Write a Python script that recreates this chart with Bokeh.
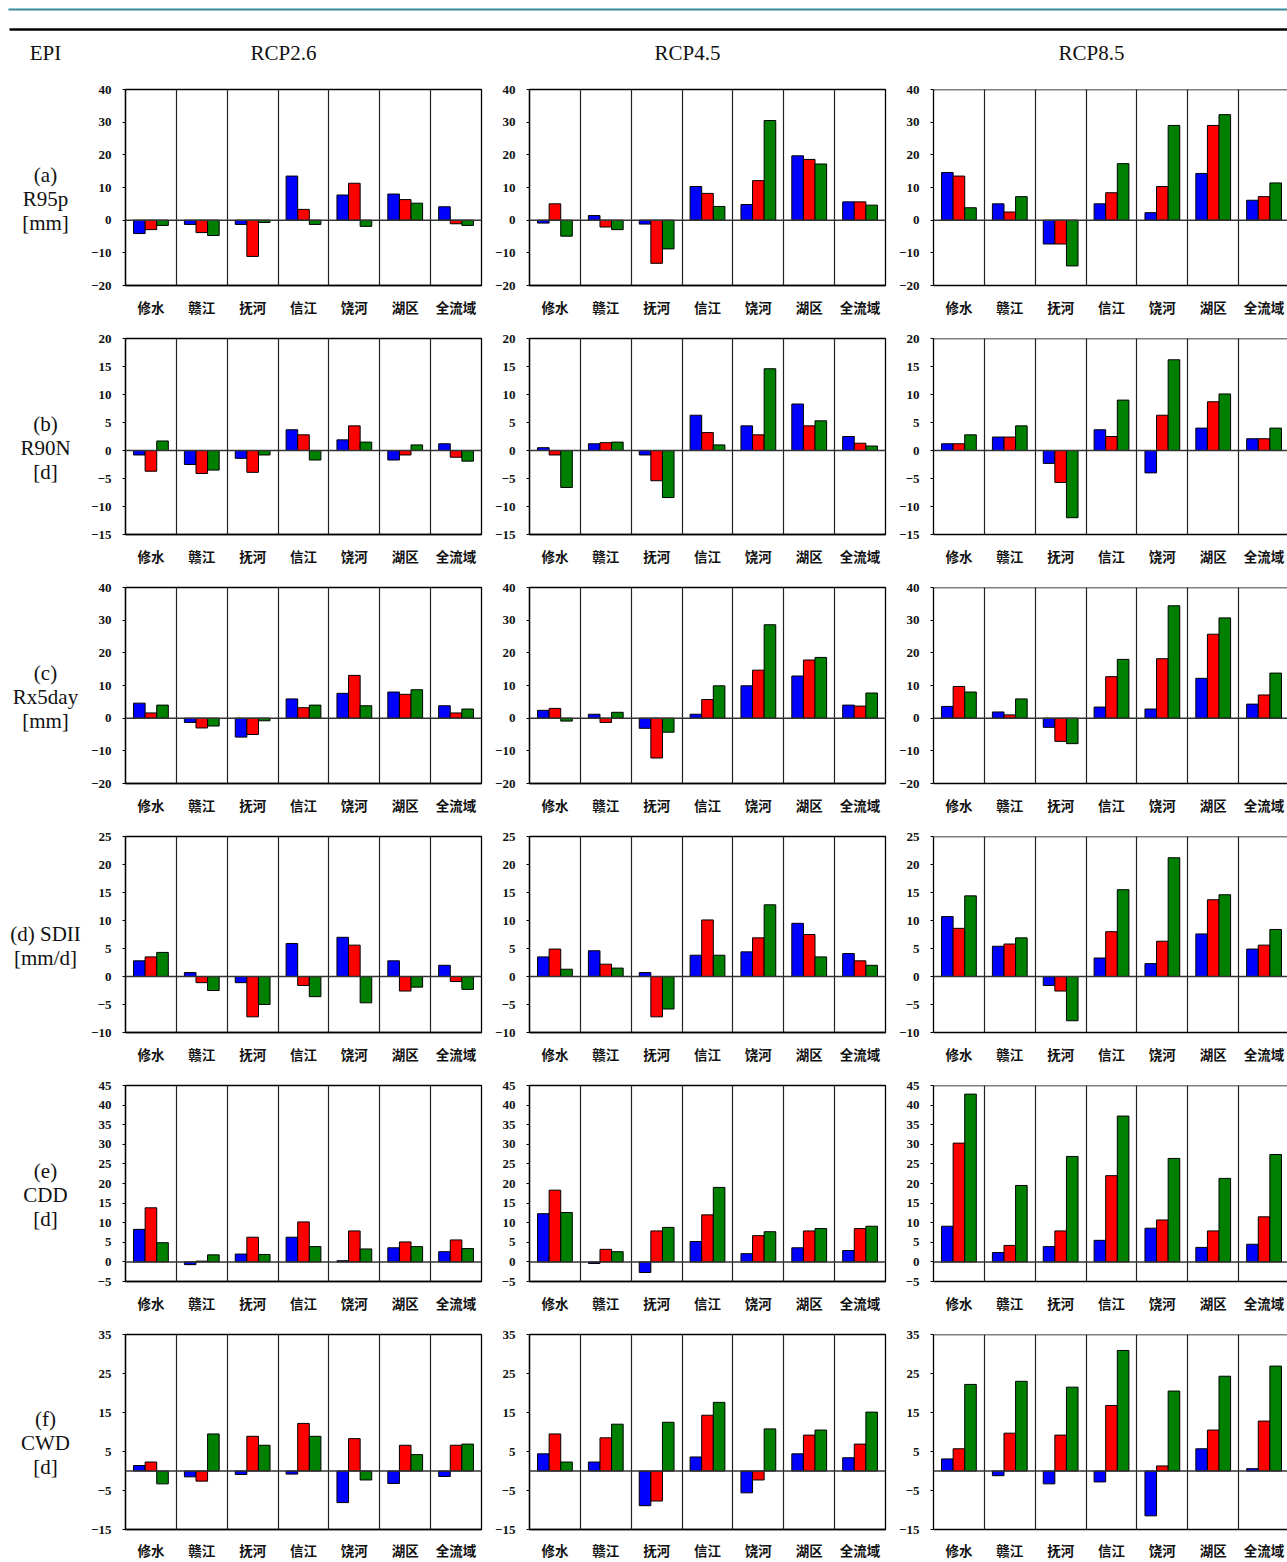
from bokeh.plotting import figure
from bokeh.layouts import column, row
from bokeh.models import Range1d, FixedTicker, Span, ColumnDataSource
from bokeh.transform import dodge
from bokeh.core.properties import value
from bokeh.embed import file_html
from bokeh.resources import INLINE

# ---------------- data ----------------
REGIONS = ["修水", "赣江", "抚河", "信江", "饶河", "湖区", "全流域"]
SCENARIOS = ["RCP2.6", "RCP4.5", "RCP8.5"]

# each scenario -> (blue series, red series, green series)
R95P = {
    "RCP2.6": ([-4.1, -1.3, -1.3, 13.5, 7.7, 8.0, 4.1],
               [-2.9, -3.8, -11.1, 3.3, 11.3, 6.3, -1.1],
               [-1.6, -4.7, -0.7, -1.3, -1.9, 5.2, -1.6]),
    "RCP4.5": ([-0.9, 1.4, -1.2, 10.3, 4.8, 19.7, 5.6],
               [5.0, -2.1, -13.2, 8.2, 12.1, 18.6, 5.6],
               [-4.9, -2.9, -8.8, 4.2, 30.5, 17.2, 4.6]),
    "RCP8.5": ([14.6, 5.0, -7.3, 5.0, 2.3, 14.3, 6.1],
               [13.5, 2.5, -7.3, 8.4, 10.3, 29.0, 7.2],
               [3.8, 7.2, -14.0, 17.3, 29.0, 32.3, 11.4]),
}
R90N = {
    "RCP2.6": ([-0.8, -2.5, -1.4, 3.7, 1.9, -1.7, 1.2],
               [-3.7, -4.1, -3.9, 2.8, 4.4, -0.8, -1.2],
               [1.7, -3.5, -0.8, -1.7, 1.5, 1.0, -1.9]),
    "RCP4.5": ([0.5, 1.2, -0.8, 6.3, 4.4, 8.3, 2.5],
               [-0.8, 1.4, -5.4, 3.2, 2.8, 4.4, 1.3],
               [-6.6, 1.5, -8.4, 1.0, 14.6, 5.3, 0.8]),
    "RCP8.5": ([1.2, 2.4, -2.3, 3.7, -4.0, 4.0, 2.1],
               [1.2, 2.4, -5.7, 2.5, 6.3, 8.7, 2.1],
               [2.8, 4.4, -12.0, 9.0, 16.2, 10.1, 4.0]),
}
RX5DAY = {
    "RCP2.6": ([4.6, -1.3, -5.8, 5.9, 7.6, 8.0, 3.8],
               [1.6, -3.0, -5.0, 3.2, 13.1, 7.3, 1.6],
               [4.0, -2.4, -0.8, 4.0, 3.8, 8.7, 2.8]),
    "RCP4.5": ([2.4, 1.2, -3.1, 1.2, 9.9, 12.9, 4.0],
               [3.0, -1.3, -12.2, 5.7, 14.7, 17.8, 3.7],
               [-0.9, 1.8, -4.3, 9.9, 28.6, 18.6, 7.7]),
    "RCP8.5": ([3.6, 1.9, -2.8, 3.4, 2.8, 12.2, 4.3],
               [9.7, 1.0, -7.1, 12.7, 18.2, 25.7, 7.1],
               [8.0, 5.9, -7.8, 18.0, 34.4, 30.7, 13.8]),
}
SDII = {
    "RCP2.6": ([2.8, 0.7, -1.1, 5.9, 7.0, 2.8, 2.0],
               [3.5, -1.1, -7.2, -1.6, 5.6, -2.6, -0.9],
               [4.3, -2.5, -5.0, -3.6, -4.7, -1.9, -2.3]),
    "RCP4.5": ([3.5, 4.6, 0.7, 3.8, 4.4, 9.5, 4.1],
               [4.9, 2.2, -7.2, 10.1, 6.9, 7.5, 2.8],
               [1.3, 1.5, -5.8, 3.8, 12.8, 3.5, 2.0]),
    "RCP8.5": ([10.7, 5.4, -1.6, 3.3, 2.3, 7.6, 4.9],
               [8.6, 5.8, -2.6, 8.0, 6.3, 13.7, 5.6],
               [14.4, 6.9, -7.9, 15.5, 21.2, 14.6, 8.4]),
}
CDD = {
    "RCP2.6": ([8.3, -0.7, 2.0, 6.3, 0.3, 3.6, 2.6],
               [13.8, 0.2, 6.3, 10.2, 7.9, 5.1, 5.6],
               [4.9, 1.8, 1.9, 3.9, 3.3, 3.9, 3.4]),
    "RCP4.5": ([12.3, -0.4, -2.7, 5.2, 2.1, 3.6, 2.9],
               [18.3, 3.2, 7.9, 12.0, 6.7, 7.9, 8.5],
               [12.6, 2.6, 8.8, 19.0, 7.7, 8.5, 9.1]),
    "RCP8.5": ([9.1, 2.4, 3.9, 5.5, 8.6, 3.7, 4.5],
               [30.3, 4.2, 7.9, 22.0, 10.7, 7.9, 11.5],
               [42.8, 19.5, 26.9, 37.2, 26.4, 21.3, 27.4]),
}
CWD = {
    "RCP2.6": ([1.4, -1.5, -0.9, -0.8, -8.1, -3.2, -1.4],
               [2.3, -2.6, 8.9, 12.2, 8.3, 6.6, 6.6],
               [-3.3, 9.5, 6.6, 8.9, -2.3, 4.2, 6.9]),
    "RCP4.5": ([4.4, 2.3, -8.9, 3.6, -5.6, 4.4, 3.4],
               [9.5, 8.5, -7.7, 14.3, -2.3, 9.2, 6.9],
               [2.3, 12.0, 12.5, 17.6, 10.8, 10.5, 15.1]),
    "RCP8.5": ([3.1, -1.2, -3.3, -2.8, -11.5, 5.7, 0.6],
               [5.7, 9.7, 9.2, 16.8, 1.3, 10.5, 12.8],
               [22.2, 23.0, 21.5, 30.9, 20.5, 24.3, 26.9]),
}

INDICES = [R95P, R90N, RX5DAY, SDII, CDD, CWD]
ROW_LABELS = [["(a)", "R95p", "[mm]"], ["(b)", "R90N", "[d]"], ["(c)", "Rx5day", "[mm]"],
              ["(d) SDII", "[mm/d]"], ["(e)", "CDD", "[d]"], ["(f)", "CWD", "[d]"]]
Y_TICKS = [[-20, -10, 0, 10, 20, 30, 40],
           [-15, -10, -5, 0, 5, 10, 15, 20],
           [-20, -10, 0, 10, 20, 30, 40],
           [-10, -5, 0, 5, 10, 15, 20, 25],
           [-5, 0, 5, 10, 15, 20, 25, 30, 35, 40, 45],
           [-15, -5, 5, 15, 25, 35]]

# ---------------- style / layout ----------------
COLORS = ["#0000ff", "#ff0000", "#008000"]
SERIF = "Liberation Serif"
CJK = "Noto Sans CJK SC"
TOTAL_W = 1287
LABEL_W = 85
BORDER_L = 40
BORDER_R = 8
FRAME_W = 356
COL_W = BORDER_L + FRAME_W + BORDER_R
ROW_H = 249
TOP_B = 17
FRAME_H = 196
BOT_B = ROW_H - TOP_B - FRAME_H
LAST_BOT_B = 32
HEADER_H = 72


def make_panel(series, ticks, col, last):
    R = BORDER_R if col < 2 else 0
    frame_w = FRAME_W if col < 2 else TOTAL_W - LABEL_W - 2 * COL_W - BORDER_L
    B = LAST_BOT_B if last else BOT_B
    n = len(REGIONS)
    xs = list(range(1, n + 1))
    x_end = 0.5 + n * frame_w / float(FRAME_W)
    p = figure(width=BORDER_L + frame_w + R, height=TOP_B + FRAME_H + B,
               x_range=Range1d(0.5, x_end), y_range=Range1d(min(ticks), max(ticks)),
               output_backend="svg", toolbar_location=None,
               min_border_left=BORDER_L, min_border_right=R, min_border_top=TOP_B,
               min_border_bottom=B)
    src = ColumnDataSource(dict(x=xs, s0=series[0], s1=series[1], s2=series[2]))
    w = 0.228
    for k, fld in enumerate(["s0", "s1", "s2"]):
        p.vbar(x=dodge("x", (k - 1) * w), top=fld, bottom=0, width=w, source=src,
               fill_color=COLORS[k], line_color="black", line_width=1)
    p.xgrid.ticker = FixedTicker(ticks=[i + 0.5 for i in range(1, n)])
    p.xgrid.grid_line_color = "#222222"
    p.xgrid.grid_line_width = 1.2
    p.ygrid.grid_line_color = None
    p.add_layout(Span(location=0, dimension="width", line_color="#333333", line_width=1.5))

    xa = p.xaxis[0]
    xa.ticker = FixedTicker(ticks=xs)
    xa.major_label_overrides = {x: name for x, name in zip(xs, REGIONS)}
    xa.major_tick_line_color = None
    xa.major_tick_out = 0
    xa.major_tick_in = 0
    xa.minor_tick_line_color = None
    xa.axis_line_color = "black"
    xa.axis_line_width = 1.3
    xa.major_label_text_font = CJK
    xa.major_label_text_font_style = "bold"
    xa.major_label_text_font_size = "13.5px"
    xa.major_label_text_color = "#111111"
    xa.major_label_standoff = 10 if last else 11

    ya = p.yaxis[0]
    ya.ticker = FixedTicker(ticks=ticks)
    ya.minor_tick_line_color = None
    ya.major_tick_out = 3
    ya.major_tick_in = 0
    ya.major_tick_line_color = "black"
    ya.axis_line_color = "black"
    ya.axis_line_width = 1.3
    ya.major_label_text_font = SERIF
    ya.major_label_text_font_style = "bold"
    ya.major_label_text_font_size = "13px"
    ya.major_label_text_color = "#111111"
    ya.major_label_standoff = 11

    if col < 2:
        p.outline_line_color = "black"
        p.outline_line_width = 1.3
        p.outline_line_alpha = 1
    else:
        p.outline_line_color = None
        p.add_layout(Span(location=max(ticks), dimension="width",
                          line_color="black", line_width=1.3))
    return p


def make_label(lines, last):
    B = LAST_BOT_B if last else BOT_B
    p = figure(width=LABEL_W, height=TOP_B + FRAME_H + B,
               x_range=Range1d(0, LABEL_W), y_range=Range1d(FRAME_H, 0),
               x_axis_type=None, y_axis_type=None, output_backend="svg",
               toolbar_location=None, min_border_left=0, min_border_right=0,
               min_border_top=TOP_B, min_border_bottom=B, outline_line_color=None)
    ys = [85, 109, 133] if len(lines) == 3 else [97, 121]
    p.text(x=[45] * len(lines), y=ys, text=lines, text_font=value(SERIF),
           text_font_size="21px", text_align="center", text_baseline="middle",
           text_color="#111111")
    return p


header = figure(width=TOTAL_W, height=HEADER_H, x_range=Range1d(0, TOTAL_W),
                y_range=Range1d(HEADER_H, 0), x_axis_type=None, y_axis_type=None,
                output_backend="svg", toolbar_location=None, min_border=0,
                outline_line_color=None)
header.segment(x0=[8], y0=[9], x1=[TOTAL_W], y1=[9], line_color="#3a8aa0", line_width=2)
header.segment(x0=[9], y0=[29], x1=[TOTAL_W], y1=[29], line_color="black", line_width=2.5)
head_text = ["EPI"] + SCENARIOS
head_x = [45] + [LABEL_W + COL_W * i + 198 for i in range(3)]
header.text(x=head_x, y=[52] * 4, text=head_text, text_font=value(SERIF),
            text_font_size="21px", text_align="center", text_baseline="middle",
            text_color="#111111")

rows = [header]
for r, idx in enumerate(INDICES):
    last = r == len(INDICES) - 1
    figs = [make_label(ROW_LABELS[r], last)]
    for c, sc in enumerate(SCENARIOS):
        figs.append(make_panel(idx[sc], Y_TICKS[r], c, last))
    rows.append(row(*figs, spacing=0))

layout = column(*rows, spacing=0)
open("out.html", "w").write(file_html(layout, INLINE))
